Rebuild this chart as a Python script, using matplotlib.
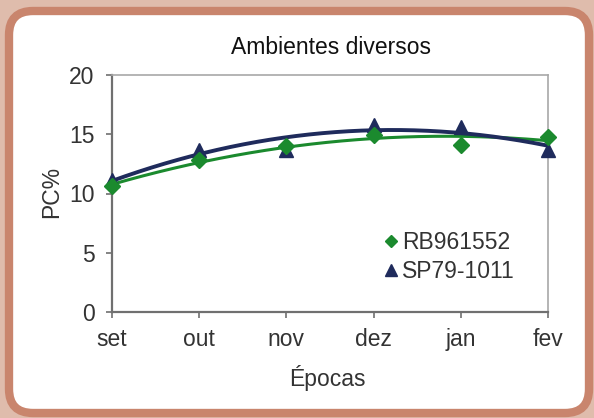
import matplotlib
matplotlib.use("Agg")
import matplotlib.pyplot as plt
import numpy as np
from matplotlib.patches import FancyBboxPatch

plt.rcParams['font.family'] = ['Liberation Sans', 'DejaVu Sans']

# data
epocas = ['set', 'out', 'nov', 'dez', 'jan', 'fev']
rb961552 = [10.6, 12.8, 14.0, 14.9, 14.1, 14.8]
sp79_1011 = [11.1, 13.7, 13.7, 15.8, 15.6, 13.7]
y_ticks = [0, 5, 10, 15, 20]

green = '#1b8a2e'
navy = '#1f2b5c'
text_col = '#333333'

fig = plt.figure(figsize=(5.94, 4.18), dpi=100)
fig.patch.set_facecolor('#dfbcac')

# rounded frame (background axes in pixel units)
bg = fig.add_axes([0, 0, 1, 1])
bg.set_xlim(0, 594)
bg.set_ylim(418, 0)
bg.axis('off')
frame = FancyBboxPatch((9, 11), 580, 402, boxstyle='round,pad=0,rounding_size=24',
                       facecolor='white', edgecolor='#c9856d', linewidth=6)
bg.add_patch(frame)

ax = fig.add_axes([112 / 594, 1 - 312 / 418, 436 / 594, 237 / 418])
ax.set_facecolor('white')
x = np.arange(len(epocas))

# polynomial trendlines (2nd order)
xs = np.linspace(0, len(epocas) - 1, 200)
for vals, col, lw in [(rb961552, green, 2.2), (sp79_1011, navy, 2.8)]:
    coef = np.polyfit(x, vals, 2)
    ax.plot(xs, np.polyval(coef, xs), color=col, lw=lw, zorder=2, clip_on=False)

ax.plot(x, rb961552, 'D', color=green, ms=8, ls='none', label='RB961552', zorder=4, clip_on=False)
ax.plot(x, sp79_1011, '^', color=navy, ms=10, ls='none', label='SP79-1011', zorder=3, clip_on=False)

ax.set_xlim(0, len(epocas) - 1)
ax.set_ylim(0, 20)
ax.set_xticks(x)
ax.set_xticklabels(epocas)
ax.set_yticks(y_ticks)
ax.tick_params(axis='both', direction='out', length=4.5, width=1.2, color='#707070',
               labelsize=16.5, labelcolor=text_col)
ax.tick_params(axis='y', pad=8)
ax.tick_params(axis='x', pad=7)
for side in ['left', 'bottom']:
    ax.spines[side].set_color('#707070')
    ax.spines[side].set_linewidth(1.6)
for side in ['top', 'right']:
    ax.spines[side].set_color('#a8a8a8')
    ax.spines[side].set_linewidth(1.2)

leg = ax.legend(loc='lower right', frameon=False, fontsize=16.5, handletextpad=0.0,
                handlelength=1.0, labelspacing=0.25, borderaxespad=0.0,
                markerscale=0.8, bbox_to_anchor=(0.945, 0.085))
for t in leg.get_texts():
    t.set_color(text_col)

fig.text(331 / 594, 1 - 48 / 418, 'Ambientes diversos', ha='center', va='center',
         fontsize=16.5, color='#111111')
fig.text(52 / 594, 1 - 192 / 418, 'PC%', ha='center', va='center', rotation=90,
         fontsize=16.5, color=text_col)
fig.text(327 / 594, 1 - 378 / 418, 'Épocas', ha='center', va='center',
         fontsize=16.5, color=text_col)

fig.savefig('out.png', dpi=100, facecolor=fig.get_facecolor())
